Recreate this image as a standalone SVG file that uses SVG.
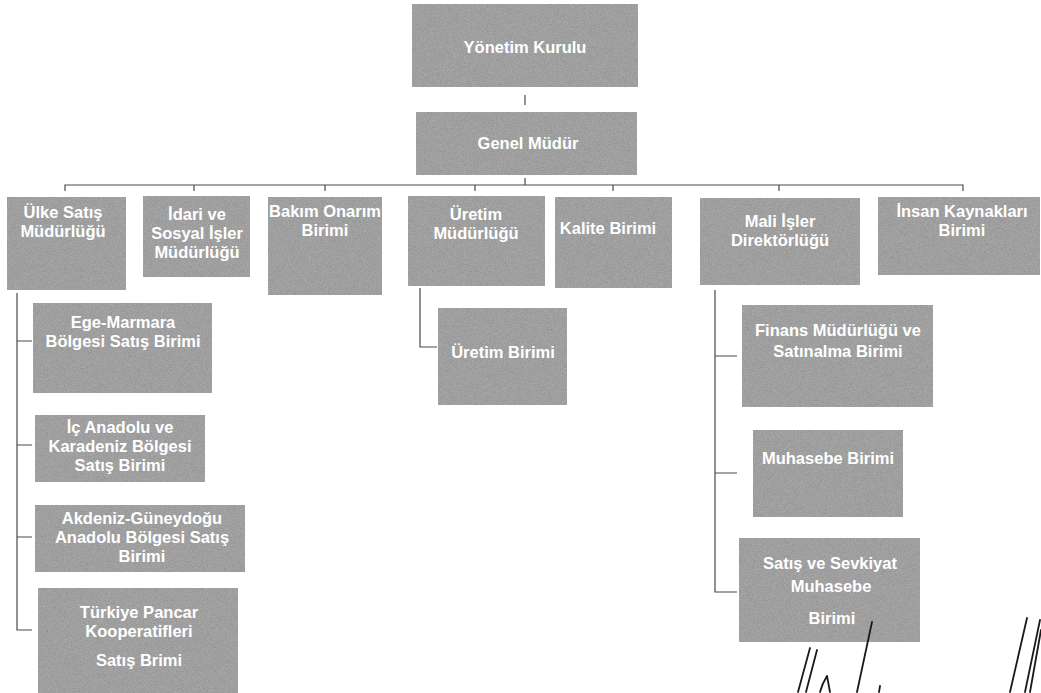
<svg xmlns="http://www.w3.org/2000/svg" width="1041" height="693" viewBox="0 0 1041 693">
<defs>
<filter id="grain" x="0" y="0" width="100%" height="100%">
<feTurbulence type="fractalNoise" baseFrequency="1.3" numOctaves="1" seed="3" result="n"/>
<feColorMatrix in="n" type="matrix" values="0 0 0 0 0.55  0 0 0 0 0.55  0 0 0 0 0.55  0 0 0 1.2 -0.35" result="g"/>
<feComposite in="g" in2="SourceGraphic" operator="in" result="gi"/>
<feBlend in="SourceGraphic" in2="gi" mode="multiply"/>
</filter>
</defs>
<style>
.box{fill:#a8a8a8;filter:url(#grain);}
.t{fill:#ffffff;font-family:"Liberation Sans",Arial,sans-serif;font-weight:bold;font-size:16.5px;text-anchor:middle;dominant-baseline:central;}
.c{stroke:#4a4a4a;stroke-width:1.2;fill:none;}
.sig{stroke:#1a1a1a;stroke-width:1.8;fill:none;stroke-linecap:round;}
</style>
<rect width="1041" height="693" fill="#ffffff"/>

<g id="connectors">
<path class="c" d="M525 95 V105"/>
<path class="c" d="M525 178 V185"/>
<path class="c" d="M65 191 V185 H963 V191"/>
<path class="c" d="M194 185 V191 M325 185 V191 M475 185 V191 M613 185 V191 M779 185 V191"/>
<path class="c" d="M17 293 V630 H32 M17 341 H32 M17 445 H32 M17 537 H32"/>
<path class="c" d="M420 288 V347 H437"/>
<path class="c" d="M715 290 V592 H737 M715 356 H737 M715 473 H737"/>
</g>

<g id="yonetim-kurulu"><rect class="box" x="412" y="4" width="226" height="83"/><text class="t" x="525" y="47">Yönetim Kurulu</text></g>
<g id="genel-mudur"><rect class="box" x="416" y="112" width="221" height="63"/><text class="t" x="528" y="143">Genel Müdür</text></g>

<g id="ulke-satis"><rect class="box" x="7" y="197" width="119" height="93"/><text class="t" x="63" y="212">Ülke Satış</text><text class="t" x="63" y="231">Müdürlüğü</text></g>
<g id="idari-sosyal"><rect class="box" x="143" y="196" width="107" height="81"/><text class="t" x="197" y="214">İdari ve</text><text class="t" x="197" y="233">Sosyal İşler</text><text class="t" x="197" y="252">Müdürlüğü</text></g>
<g id="bakim-onarim"><rect class="box" x="268" y="197" width="114" height="98"/><text class="t" x="325" y="211">Bakım Onarım</text><text class="t" x="325" y="230">Birimi</text></g>
<g id="uretim-mudurlugu"><rect class="box" x="408" y="196" width="137" height="90"/><text class="t" x="476" y="214">Üretim</text><text class="t" x="476" y="233">Müdürlüğü</text></g>
<g id="kalite"><rect class="box" x="555" y="197" width="117" height="91"/><text class="t" x="608" y="228">Kalite Birimi</text></g>
<g id="mali-isler"><rect class="box" x="700" y="198" width="160" height="87"/><text class="t" x="780" y="221">Mali İşler</text><text class="t" x="780" y="240">Direktörlüğü</text></g>
<g id="insan-kaynaklari"><rect class="box" x="878" y="197" width="162" height="78"/><text class="t" x="962" y="211">İnsan Kaynakları</text><text class="t" x="962" y="230">Birimi</text></g>

<g id="ege-marmara"><rect class="box" x="33" y="303" width="179" height="90"/><text class="t" x="123" y="322">Ege-Marmara</text><text class="t" x="123" y="341">Bölgesi Satış Birimi</text></g>
<g id="ic-anadolu"><rect class="box" x="35" y="415" width="170" height="67"/><text class="t" x="120" y="427">İç Anadolu ve</text><text class="t" x="120" y="446">Karadeniz Bölgesi</text><text class="t" x="120" y="465">Satış Birimi</text></g>
<g id="akdeniz"><rect class="box" x="35" y="505" width="210" height="67"/><text class="t" x="142" y="518">Akdeniz-Güneydoğu</text><text class="t" x="142" y="537">Anadolu Bölgesi Satış</text><text class="t" x="142" y="556">Birimi</text></g>
<g id="turkiye-pancar"><rect class="box" x="38" y="588" width="200" height="105"/><text class="t" x="139" y="612">Türkiye Pancar</text><text class="t" x="139" y="631">Kooperatifleri</text><text class="t" x="139" y="660">Satış Brimi</text></g>

<g id="uretim-birimi"><rect class="box" x="438" y="308" width="129" height="97"/><text class="t" x="503" y="352">Üretim Birimi</text></g>

<g id="finans"><rect class="box" x="742" y="305" width="191" height="102"/><text class="t" x="838" y="330">Finans Müdürlüğü ve</text><text class="t" x="838" y="351">Satınalma Birimi</text></g>
<g id="muhasebe"><rect class="box" x="753" y="430" width="150" height="87"/><text class="t" x="828" y="458">Muhasebe Birimi</text></g>
<g id="satis-sevkiyat"><rect class="box" x="739" y="538" width="181" height="104"/><text class="t" x="830" y="563">Satış ve Sevkiyat</text><text class="t" x="831" y="586">Muhasebe</text><text class="t" x="832" y="618">Birimi</text></g>

<g id="signatures">
<path class="sig" d="M810 648 L798 692"/>
<path class="sig" d="M817 650 L806 692"/>
<path class="sig" d="M827 676 Q822 684 820 692 M827 676 L830 692"/>
<path class="sig" d="M872 622 L857 692"/>
<path class="sig" d="M880 686 L879 692"/>
<path class="sig" d="M1027 618 L1010 692"/>
<path class="sig" d="M1040 620 L1025 692"/>
<path class="sig" d="M1041 630 L1030 692"/>
</g>
</svg>
